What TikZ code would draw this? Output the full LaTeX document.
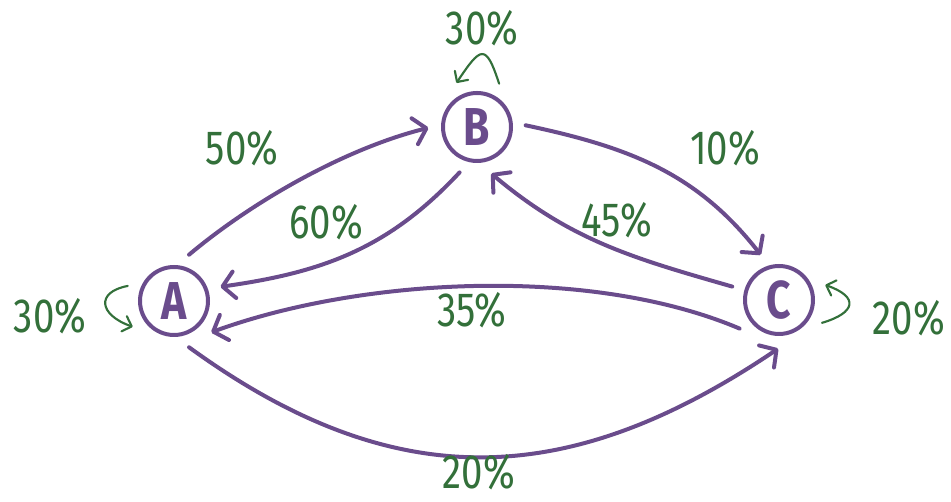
\documentclass[tikz,border=0pt]{standalone}
\usepackage{fontspec}
\setmainfont{Fira Sans}
\newfontfamily\handfont[FakeStretch=0.8]{Fira Sans}
\usetikzlibrary{arrows.meta}
\definecolor{Plum}{HTML}{6A4C8C}
\definecolor{Moss}{HTML}{33703A}

\begin{document}
\begin{tikzpicture}[x=.75pt,y=.75pt,
    state/.style={draw=Plum,line width=3pt,circle,minimum size=51pt,inner sep=0pt,outer sep=11pt,text=Plum,font=\handfont\fontsize{40}{40}\selectfont\bfseries},
    trans/.style={draw=Plum,line width=3pt,line cap=round,-{Straight Barb[length=9pt,width=20pt,round]}},
    selfloop/.style={draw=Moss,line width=1.6pt,line cap=round,-{Straight Barb[length=6pt,width=12pt,round]}},
    pct/.style={text=Moss,inner sep=1pt,font=\handfont\fontsize{36}{36}\selectfont}]
  \useasboundingbox (0,0) rectangle (951,502);
  \node[state] (A) at (174,201) {A};
  \node[state] (B) at (477,375) {B};
  \node[state] (C) at (779,202) {C};
  % transitions between the states
  \draw[trans] (A.72) to[out=40,in=194,looseness=.8] (B.181);
  \draw[trans] (B.249) to[out=227,in=8] (A.17);
  \draw[trans] (B.2) to[out=-12,in=128] (C.112);
  \draw[trans] (C.164) to[out=164,in=-40] (B.287);
  \draw[trans] (C.216) to[out=157,in=20,looseness=.78] (A.320);
  \draw[trans] (A.288) to[out=-36,in=214,looseness=1.1] (C.269);
  % staying put
  \draw[selfloop] (A.162) .. controls +(-32,-6) and +(-34,12) .. (A.212);
  \draw[selfloop] (B.63) to[out=108,in=56,looseness=2.6] (B.115);
  \draw[selfloop] (C.-28) .. controls +(34,10) and +(34,-12) .. (C.18);
  % probabilities
  \foreach \name/\x/\y/\txt in {pAB/242/354/50,pBA/326/280/60,pBC/725/354/10,pCB/617/282/45,
      pCA/472/192/35,pAC/479/30/20,pAA/50/186/30,pBB/482/474/30,pCC/909/184/20}
    \node[pct] (\name) at (\x,\y) {\txt\%};
\end{tikzpicture}
\end{document}
